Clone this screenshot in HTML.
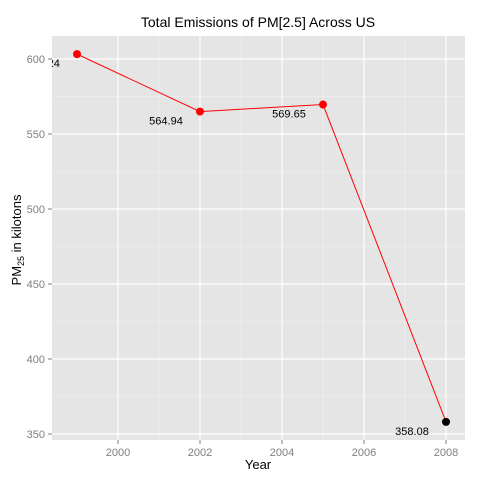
<!DOCTYPE html>
<html><head><meta charset="utf-8"><style>
html,body{margin:0;padding:0;background:#fff;}
svg{display:block;font-family:"Liberation Sans",sans-serif;}
</style></head><body>
<svg id="chart" width="480" height="480" xmlns="http://www.w3.org/2000/svg">
<defs><clipPath id="pc"><rect x="52" y="36" width="413" height="404"/></clipPath></defs>
<rect x="0" y="0" width="480" height="480" fill="#fff"/>
<rect x="52" y="36" width="413" height="404" fill="#e5e5e5"/>
<g id="grid"></g>
<g id="axes"></g>
<g id="marks"></g>
<text x="258" y="27" text-anchor="middle" font-size="14">Total Emissions of PM[2.5] Across US</text>
<text x="258" y="469" text-anchor="middle" font-size="13">Year</text>
<text transform="translate(21,240) rotate(-90)" text-anchor="middle" font-size="13">PM<tspan font-size="9" dy="3">25</tspan><tspan dy="-3"> in kilotons</tspan></text>
</svg>
<script>
const years = [1999, 2002, 2005, 2008];
const emissions = [603.24, 564.94, 569.65, 358.08];
const labels = ["603.24", "564.94", "569.65", "358.08"];
const xTicks = [2000, 2002, 2004, 2006, 2008];
const yTicks = [350, 400, 450, 500, 550, 600];

const NS = "http://www.w3.org/2000/svg";
const X = v => 118 + (v - 2000) * 41;
const Y = v => 59 + (600 - v) * 1.5;
function mk(tag, attrs, parent){const e=document.createElementNS(NS,tag);for(const k in attrs)e.setAttribute(k,attrs[k]);parent.appendChild(e);return e;}
const grid=document.getElementById('grid'), axes=document.getElementById('axes'), marks=document.getElementById('marks');
for(let i=0;i<xTicks.length-1;i++){const m=(xTicks[i]+xTicks[i+1])/2;const l=mk('line',{x1:X(m),x2:X(m),y1:36,y2:440,stroke:'#f2f2f2','stroke-width':0.6},grid);

}
for(let i=0;i<yTicks.length-1;i++){const m=(yTicks[i]+yTicks[i+1])/2;const l=mk('line',{x1:52,x2:465,y1:Y(m),y2:Y(m),stroke:'#f2f2f2','stroke-width':0.6},grid);

}
xTicks.forEach(t=>{const l=mk('line',{x1:X(t),x2:X(t),y1:36,y2:440,stroke:'#fff','stroke-width':1.2},grid);


const tk=mk('line',{x1:X(t),x2:X(t),y1:440,y2:444,stroke:'#7f7f7f'},axes);


const tx=mk('text',{x:X(t),y:456,'text-anchor':'middle','font-size':11,fill:'#7f7f7f'},axes);tx.textContent=t;

});
yTicks.forEach(t=>{const l=mk('line',{x1:52,x2:465,y1:Y(t),y2:Y(t),stroke:'#fff','stroke-width':1.2},grid);


const tk=mk('line',{x1:48,x2:52,y1:Y(t),y2:Y(t),stroke:'#7f7f7f'},axes);


const tx=mk('text',{x:45,y:Y(t)+4,'text-anchor':'end','font-size':11,fill:'#7f7f7f'},axes);tx.textContent=t;

});
const pts=years.map((y,i)=>X(y)+','+Y(emissions[i])).join(' ');
const line=mk('polyline',{points:pts,fill:'none',stroke:'#ff0000','stroke-width':1},marks);


years.forEach((y,i)=>{const c=mk('circle',{cx:X(y),cy:Y(emissions[i]),r:4,fill:i===years.length-1?'#000':'#ff0000'},marks);


if(labels[i]){const t=mk('text',{x:X(y)-34,y:Y(emissions[i])+13,'text-anchor':'middle','font-size':11,fill:'#000','clip-path':'url(#pc)'},marks);t.textContent=labels[i];

}});
</script>
</body></html>
